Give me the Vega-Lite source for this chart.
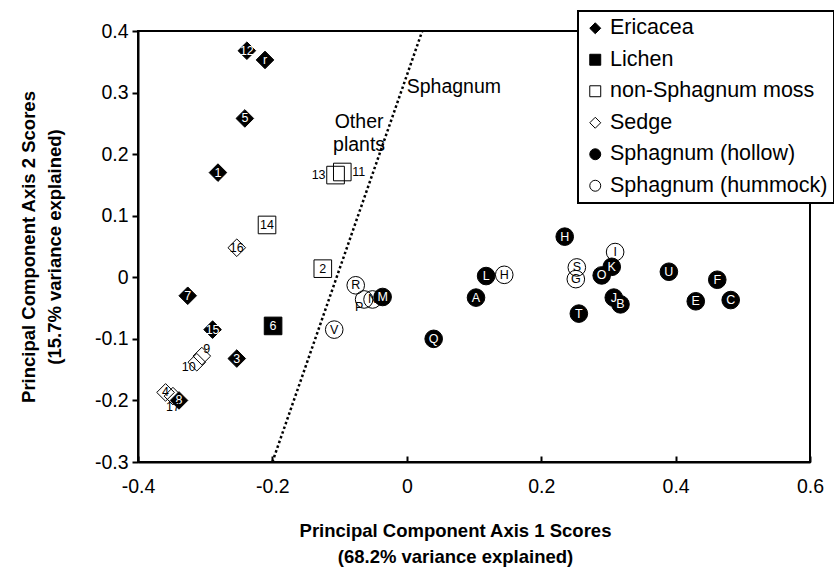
{
  "$schema": "https://vega.github.io/schema/vega-lite/v6.json",
  "width": 672,
  "height": 431,
  "autosize": "none",
  "padding": {"left": 138, "top": 31, "right": 24, "bottom": 108},
  "background": "white",
  "config": {
    "font": "Liberation Sans",
    "view": {"stroke": "black", "strokeWidth": 2},
    "legend": {"strokeWidth": 2},
    "axis": {"grid": false, "domainColor": "black", "domainWidth": 2, "tickColor": "black", "tickWidth": 2, "labelColor": "black", "titleColor": "black", "labelFont": "Liberation Sans", "titleFont": "Liberation Sans", "labelFontSize": 19.5, "titleFontSize": 18.5, "titleFontWeight": "bold", "titleLineHeight": 26, "labelFlush": false, "labelExpr": "replace(format(datum.value, '.1~f'), '\u2212', '-')"}
  },
  "datasets": {
    "pts": [
      {"label": "16", "type": "Sedge", "x": -0.253, "y": 0.048},
      {"label": "4", "type": "Sedge", "x": -0.359, "y": -0.187},
      {"label": "17", "type": "Sedge", "x": -0.348, "y": -0.193},
      {"label": "9", "type": "Sedge", "x": -0.305, "y": -0.128},
      {"label": "10", "type": "Sedge", "x": -0.3125, "y": -0.138},
      {"label": "14", "type": "non-Sphagnum moss", "x": -0.208, "y": 0.085},
      {"label": "2", "type": "non-Sphagnum moss", "x": -0.125, "y": 0.014},
      {"label": "13", "type": "non-Sphagnum moss", "x": -0.106, "y": 0.166},
      {"label": "11", "type": "non-Sphagnum moss", "x": -0.096, "y": 0.171},
      {"label": "H", "type": "Sphagnum (hummock)", "x": 0.145, "y": 0.004},
      {"label": "S", "type": "Sphagnum (hummock)", "x": 0.253, "y": 0.016},
      {"label": "G", "type": "Sphagnum (hummock)", "x": 0.2515, "y": -0.003},
      {"label": "I", "type": "Sphagnum (hummock)", "x": 0.31, "y": 0.041},
      {"label": "R", "type": "Sphagnum (hummock)", "x": -0.076, "y": -0.013},
      {"label": "P", "type": "Sphagnum (hummock)", "x": -0.0635, "y": -0.036},
      {"label": "N", "type": "Sphagnum (hummock)", "x": -0.051, "y": -0.036},
      {"label": "V", "type": "Sphagnum (hummock)", "x": -0.108, "y": -0.085},
      {"label": "12", "type": "Ericacea", "x": -0.238, "y": 0.368},
      {"label": "r", "type": "Ericacea", "x": -0.211, "y": 0.353},
      {"label": "5", "type": "Ericacea", "x": -0.241, "y": 0.258},
      {"label": "1", "type": "Ericacea", "x": -0.281, "y": 0.17},
      {"label": "7", "type": "Ericacea", "x": -0.326, "y": -0.03},
      {"label": "15", "type": "Ericacea", "x": -0.289, "y": -0.085},
      {"label": "3", "type": "Ericacea", "x": -0.253, "y": -0.132},
      {"label": "8", "type": "Ericacea", "x": -0.339, "y": -0.2},
      {"label": "6", "type": "Lichen", "x": -0.199, "y": -0.079},
      {"label": "M", "type": "Sphagnum (hollow)", "x": -0.036, "y": -0.032},
      {"label": "A", "type": "Sphagnum (hollow)", "x": 0.103, "y": -0.033},
      {"label": "L", "type": "Sphagnum (hollow)", "x": 0.118, "y": 0.002},
      {"label": "Q", "type": "Sphagnum (hollow)", "x": 0.04, "y": -0.1},
      {"label": "H", "type": "Sphagnum (hollow)", "x": 0.235, "y": 0.066},
      {"label": "O", "type": "Sphagnum (hollow)", "x": 0.29, "y": 0.003},
      {"label": "K", "type": "Sphagnum (hollow)", "x": 0.305, "y": 0.017},
      {"label": "J", "type": "Sphagnum (hollow)", "x": 0.308, "y": -0.033},
      {"label": "B", "type": "Sphagnum (hollow)", "x": 0.318, "y": -0.044},
      {"label": "T", "type": "Sphagnum (hollow)", "x": 0.256, "y": -0.059},
      {"label": "U", "type": "Sphagnum (hollow)", "x": 0.39, "y": 0.009},
      {"label": "F", "type": "Sphagnum (hollow)", "x": 0.462, "y": -0.004},
      {"label": "E", "type": "Sphagnum (hollow)", "x": 0.43, "y": -0.039},
      {"label": "C", "type": "Sphagnum (hollow)", "x": 0.482, "y": -0.037}
    ],
    "divider": [
      {"x": -0.2, "y": -0.3},
      {"x": 0.023, "y": 0.4}
    ],
    "notes": [
      {"text": "Other", "x": -0.071, "y": 0.252},
      {"text": "plants", "x": -0.071, "y": 0.215},
      {"text": "Sphagnum", "x": 0.07, "y": 0.309}
    ]
  },
  "encoding": {
    "x": {"field": "x", "type": "quantitative", "scale": {"domain": [-0.4, 0.6], "nice": false, "zero": false},
      "axis": {"values": [-0.4, -0.2, 0, 0.2, 0.4, 0.6], "tickSize": -6, "labelPadding": 21, "title": ["Principal Component Axis 1 Scores", "(68.2% variance explained)"], "titlePadding": 26, "titleX": 317}},
    "y": {"field": "y", "type": "quantitative", "scale": {"domain": [-0.3, 0.4], "nice": false, "zero": false},
      "axis": {"values": [-0.3, -0.2, -0.1, 0, 0.1, 0.2, 0.3, 0.4], "tickSize": 6, "labelPadding": 4, "title": ["Principal Component Axis 2 Scores", "(15.7% variance explained)"], "titlePadding": 30}}
  },
  "layer": [
    {
      "data": {"name": "divider"},
      "mark": {"type": "line", "color": "black", "strokeWidth": 2.5, "strokeDash": [2.5, 2.5]},
      "encoding": {}
    },
    {
      "data": {"name": "notes"},
      "mark": {"type": "text", "fontSize": 19.5, "font": "Liberation Sans", "color": "black", "align": "center", "baseline": "middle"},
      "encoding": {"text": {"field": "text"}}
    },
    {
      "data": {"name": "pts"},
      "mark": {"type": "point", "filled": false, "strokeWidth": 1, "size": 310, "opacity": 1},
      "encoding": {
        "shape": {"field": "type", "type": "nominal",
          "scale": {"domain": ["Ericacea", "Lichen", "non-Sphagnum moss", "Sedge", "Sphagnum (hollow)", "Sphagnum (hummock)"], "range": ["diamond", "square", "square", "diamond", "circle", "circle"]},
          "legend": {"title": null, "orient": "none", "legendX": 440, "legendY": -20, "fillColor": "white", "strokeColor": "black", "padding": 6.5, "labelFontSize": 21.5, "labelFont": "Liberation Sans", "labelColor": "black", "symbolSize": 120, "symbolStrokeWidth": 1, "rowPadding": 8.5, "labelOffset": 4, "labelLimit": 400, "labelExpr": "datum.label + ' '"}},
        "fill": {"field": "type", "type": "nominal",
          "scale": {"domain": ["Ericacea", "Lichen", "non-Sphagnum moss", "Sedge", "Sphagnum (hollow)", "Sphagnum (hummock)"], "range": ["black", "black", "transparent", "transparent", "black", "transparent"]},
          "legend": {"title": null, "orient": "none", "legendX": 440, "legendY": -20, "fillColor": "white", "strokeColor": "black", "padding": 6.5, "labelFontSize": 21.5, "labelFont": "Liberation Sans", "labelColor": "black", "symbolSize": 120, "symbolStrokeWidth": 1, "rowPadding": 8.5, "labelOffset": 4, "labelLimit": 400, "labelExpr": "datum.label + ' '"}},
        "stroke": {"field": "type", "type": "nominal",
          "scale": {"domain": ["Ericacea", "Lichen", "non-Sphagnum moss", "Sedge", "Sphagnum (hollow)", "Sphagnum (hummock)"], "range": ["black", "black", "black", "black", "black", "black"]},
          "legend": {"title": null, "orient": "none", "legendX": 440, "legendY": -20, "fillColor": "white", "strokeColor": "black", "padding": 6.5, "labelFontSize": 21.5, "labelFont": "Liberation Sans", "labelColor": "black", "symbolSize": 120, "symbolStrokeWidth": 1, "rowPadding": 8.5, "labelOffset": 4, "labelLimit": 400, "labelExpr": "datum.label + ' '"}}
      }
    },
    {
      "data": {"name": "pts"},
      "transform": [{"filter": "indexof(['13','11','9','10','17','P'], datum.label) < 0"}],
      "mark": {"type": "text", "fontSize": 12.5, "font": "Liberation Sans", "align": "center", "baseline": "middle"},
      "encoding": {
        "text": {"field": "label"},
        "color": {"condition": {"test": "indexof(['Ericacea','Lichen','Sphagnum (hollow)'], datum.type) >= 0", "value": "white"}, "value": "black"}
      }
    },
    {
      "data": {"name": "pts"},
      "transform": [{"filter": "datum.label == '13'"}],
      "mark": {"type": "text", "fontSize": 12.5, "font": "Liberation Sans", "align": "right", "baseline": "middle", "dx": -10, "color": "black"},
      "encoding": {"text": {"field": "label"}}
    },
    {
      "data": {"name": "pts"},
      "transform": [{"filter": "datum.label == '11'"}],
      "mark": {"type": "text", "fontSize": 12.5, "font": "Liberation Sans", "align": "left", "baseline": "middle", "dx": 10, "color": "black"},
      "encoding": {"text": {"field": "label"}}
    },
    {
      "data": {"name": "pts"},
      "transform": [{"filter": "datum.label == '9'"}],
      "mark": {"type": "text", "fontSize": 12.5, "font": "Liberation Sans", "align": "center", "baseline": "middle", "dx": 5, "dy": -7, "color": "black"},
      "encoding": {"text": {"field": "label"}}
    },
    {
      "data": {"name": "pts"},
      "transform": [{"filter": "datum.label == '10'"}],
      "mark": {"type": "text", "fontSize": 12.5, "font": "Liberation Sans", "align": "center", "baseline": "middle", "dx": -8, "dy": 5, "color": "black"},
      "encoding": {"text": {"field": "label"}}
    },
    {
      "data": {"name": "pts"},
      "transform": [{"filter": "datum.label == '17'"}],
      "mark": {"type": "text", "fontSize": 12.5, "font": "Liberation Sans", "align": "center", "baseline": "middle", "dy": 11, "color": "black"},
      "encoding": {"text": {"field": "label"}}
    },
    {
      "data": {"name": "pts"},
      "transform": [{"filter": "datum.label == 'P'"}],
      "mark": {"type": "text", "fontSize": 12.5, "font": "Liberation Sans", "align": "center", "baseline": "middle", "dx": -5, "dy": 8, "color": "black"},
      "encoding": {"text": {"field": "label"}}
    }
  ]
}
